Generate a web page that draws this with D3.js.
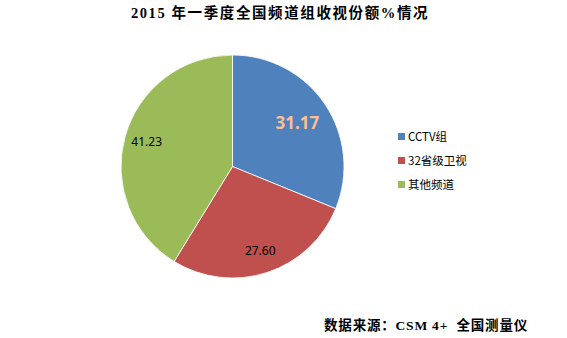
<!DOCTYPE html>
<html><head><meta charset="utf-8">
<script src="https://cdn.jsdelivr.net/npm/d3@7"></script>
<style>body{margin:0;background:#fff}svg{display:block}text{white-space:pre}</style>
</head><body><svg id="c" width="567" height="338"></svg>
<script>
const categories = ["CCTV组", "32省级卫视", "其他频道"];
const values = [31.17, 27.60, 41.23];
const labels = ["31.17", "27.60", "41.23"];
const colors = ["#4F81BD", "#C0504D", "#9BBB59"];
const title = "2015 年一季度全国频道组收视份额%情况";
const source = "数据来源：CSM 4+  全国测量仪";

const svg = d3.select("#c");
const cx = 232.5, cy = 166.5, R = 111.5;
const g = svg.append("g").attr("transform", `translate(${cx},${cy})`);
const pie = d3.pie().sort(null).value(d => d)(values);
const arc = d3.arc().innerRadius(0).outerRadius(R);
g.selectAll("path").data(pie).join("path")
  .attr("d", arc).attr("fill", (d,i) => colors[i])
  .attr("stroke", "#fff").attr("stroke-width", 0.8);

const labelR = [0.7, 0.8, 0.8];
g.selectAll("text.lbl").data(pie).join("text")
  .attr("class","lbl")
  .attr("transform", (d,i) => {
    const a = (d.startAngle + d.endAngle)/2, r = R*labelR[i];
    return `translate(${r*Math.sin(a)},${-r*Math.cos(a)})`;
  })
  .attr("text-anchor","middle").attr("dy","0.35em")
  .attr("font-family","'Noto Sans', 'Open Sans', sans-serif")
  .attr("font-size",(d,i)=> i===0 ? 17 : 12)
  .attr("font-weight",(d,i)=> i===0 ? "bold" : "normal")
  .attr("fill",(d,i)=> i===0 ? "#FAC090" : "#000")
  .text((d,i) => labels[i]);

svg.append("text").attr("x", 280).attr("y", 18).attr("text-anchor","middle")
  .attr("font-family","'Liberation Serif', 'Noto Sans CJK SC', serif").attr("font-weight","bold")
  .attr("font-size", 14.5).attr("letter-spacing", 1.6).text(title);

const lg = svg.append("g").attr("transform","translate(398,137)");
categories.forEach((c,i) => {
  const row = lg.append("g").attr("transform",`translate(0,${i*24})`);
  row.append("rect").attr("x",0).attr("y",-4).attr("width",7).attr("height",7).attr("fill",colors[i]);
  row.append("text").attr("x",10).attr("y",0).attr("dy","0.35em")
    .attr("font-family","'Noto Sans CJK SC', sans-serif").attr("font-size",11.5).text(c);
});

svg.append("text").attr("x", 528).attr("y", 330).attr("text-anchor","end")
  .attr("font-family","'Liberation Serif', 'Noto Sans CJK SC', serif").attr("font-weight","bold")
  .attr("font-size", 13.5).attr("letter-spacing", 0.8).text(source);
</script></body></html>
